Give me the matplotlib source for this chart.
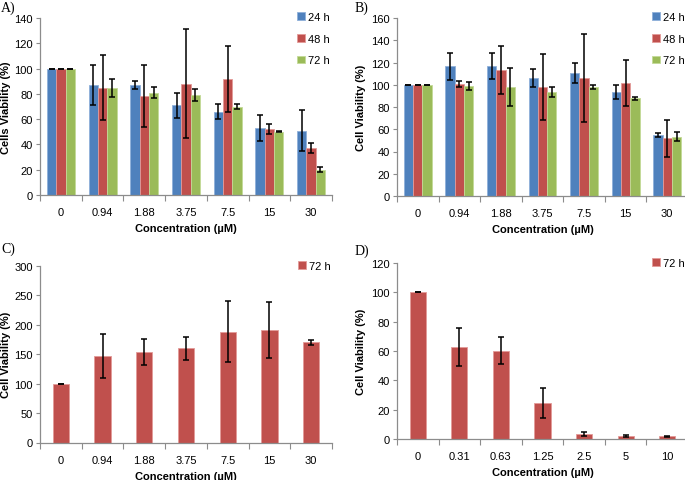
import numpy as np
import matplotlib
matplotlib.use("Agg")
import matplotlib.pyplot as plt

plt.rcParams['font.family'] = ['Liberation Sans', 'DejaVu Sans']

conc_ab = ['0', '0.94', '1.88', '3.75', '7.5', '15', '30']
conc_d = ['0', '0.31', '0.63', '1.25', '2.5', '5', '10']

a_24 = [100, 87, 87, 71, 66, 53, 51]
a_24_err = [0, 16, 3.3, 10, 6, 10.5, 16.5]
a_48 = [100, 85, 78, 88, 92, 52, 37]
a_48_err = [0, 26, 24.5, 43, 26, 4, 4]
a_72 = [100, 84.5, 81, 79, 70, 50, 20]
a_72_err = [0, 7, 4.5, 4.5, 2, 0.5, 2]

b_24 = [100, 116.5, 116.7, 106, 111, 93.5, 54.6]
b_24_err = [0, 12.4, 11.5, 8.3, 9, 6.5, 2]
b_48 = [100, 101, 113.4, 98, 106, 101.5, 52]
b_48_err = [0, 2.6, 21.5, 29.5, 39.5, 20.6, 16.7]
b_72 = [100, 99, 98, 93.5, 98, 87.8, 53.4]
b_72_err = [0, 3.8, 17.2, 4.8, 1.8, 1.2, 4.2]

c_72 = [100, 147, 154, 160, 188, 191, 170]
c_72_err = [0, 37, 22, 19, 52, 48, 4.5]

d_72 = [100, 62.7, 60.2, 24.6, 3.4, 2, 2]
d_72_err = [0, 13, 9.3, 10.5, 1.2, 0.4, 0.3]

series_labels = ['24 h', '48 h', '72 h']
panel_names = ["A", "B", "C", "D"]

BLUE = '#4F81BD'
RED = '#C0504D'
GREEN = '#9BBB59'
EDGE = {BLUE: '#8FB0DA', RED: '#E39A98', GREEN: '#C3DA97'}
GREY = '#8C8C8C'

W, H = 685, 481
fig = plt.figure(figsize=(W / 100, H / 100), dpi=100)


def px_axes(left, top, right, bottom):
    return fig.add_axes([left / W, 1 - bottom / H, (right - left) / W, (bottom - top) / H])


def style(ax, cats, ymax, ystep, ylabel):
    ax.set_xlim(-0.5, len(cats) - 0.5)
    ax.set_ylim(0, ymax)
    ax.set_yticks(np.arange(0, ymax + 1, ystep))
    ax.set_xticks(np.arange(len(cats)))
    ax.set_xticklabels(cats)
    ax.set_xticks(np.arange(-0.5, len(cats), 1), minor=True)
    ax.tick_params(axis='x', which='major', length=0, pad=9, labelsize=8)
    ax.tick_params(axis='x', which='minor', length=4, color=GREY, width=0.8)
    ax.tick_params(axis='y', length=3, color=GREY, width=0.8, labelsize=8, pad=2)
    for s in ['top', 'right']:
        ax.spines[s].set_visible(False)
    for s in ['left', 'bottom']:
        ax.spines[s].set_color(GREY)
        ax.spines[s].set_linewidth(0.9)
    ax.set_xlabel('Concentration (µM)', fontsize=8, fontweight='bold', labelpad=4)
    ax.set_ylabel(ylabel, fontsize=8, fontweight='bold')


ekw = dict(ecolor='black', elinewidth=1.1, capsize=2.5, capthick=1.1)


def grouped(ax, groups, errs, colors):
    x = np.arange(len(groups[0]))
    w = 0.224
    for i, (vals, err, c) in enumerate(zip(groups, errs, colors)):
        ax.bar(x + (i - 1) * w, vals, w, yerr=err, color=c, edgecolor=EDGE[c],
               linewidth=0.6, error_kw=ekw, label=series_labels[i], zorder=2)


def single(ax, vals, err):
    x = np.arange(len(vals))
    ax.bar(x, vals, 0.39, yerr=err, color=RED, edgecolor=EDGE[RED],
           linewidth=0.6, error_kw=ekw, label='72 h', zorder=2)


leg_kw = dict(frameon=False, fontsize=8, handlelength=0.7, handleheight=0.7,
              handletextpad=0.3, labelspacing=1.05, borderpad=0, borderaxespad=0)

# Panel A
axA = px_axes(40, 19, 332, 196)
grouped(axA, [a_24, a_48, a_72], [a_24_err, a_48_err, a_72_err], [BLUE, RED, GREEN])
style(axA, conc_ab, 140, 20, 'Cells Viability (%)')
axA.yaxis.set_label_coords((11 - 40) / 292, 0.5)
axA.legend(loc='upper left', bbox_to_anchor=((297 - 40) / 292, 1 + (19 - 13) / 177), **leg_kw)

# Panel B
axB = px_axes(397, 19, 688, 197)
grouped(axB, [b_24, b_48, b_72], [b_24_err, b_48_err, b_72_err], [BLUE, RED, GREEN])
style(axB, conc_ab, 160, 20, 'Cell Viability (%)')
axB.yaxis.set_label_coords((366 - 397) / 291, 0.5)
axB.legend(loc='upper left', bbox_to_anchor=((652 - 397) / 291, 1 + (19 - 13) / 178), **leg_kw)

# Panel C
axC = px_axes(40, 267, 332, 443.5)
single(axC, c_72, c_72_err)
style(axC, conc_ab, 300, 50, 'Cell Viability (%)')
axC.yaxis.set_label_coords((11 - 40) / 292, 0.5)
axC.legend(loc='upper left', bbox_to_anchor=((298 - 40) / 292, 1 + (267 - 262) / 176.5), **leg_kw)

# Panel D
axD = px_axes(397, 264, 688, 440)
single(axD, d_72, d_72_err)
style(axD, conc_d, 120, 20, 'Cell Viability (%)')
axD.yaxis.set_label_coords((366 - 397) / 291, 0.5)
axD.legend(loc='upper left', bbox_to_anchor=((652 - 397) / 291, 1 + (264 - 259) / 176), **leg_kw)

# Panel letters
letter_x = [1, 355, 1, 355]
letter_y = [2, 2, 243, 245]
for name, lx, ly in zip(panel_names, letter_x, letter_y):
    fig.text(lx / W, 1 - ly / H, name + chr(41), fontsize=10,
             family='Liberation Serif', va='top', ha='left')

fig.savefig('out.png', dpi=100)
